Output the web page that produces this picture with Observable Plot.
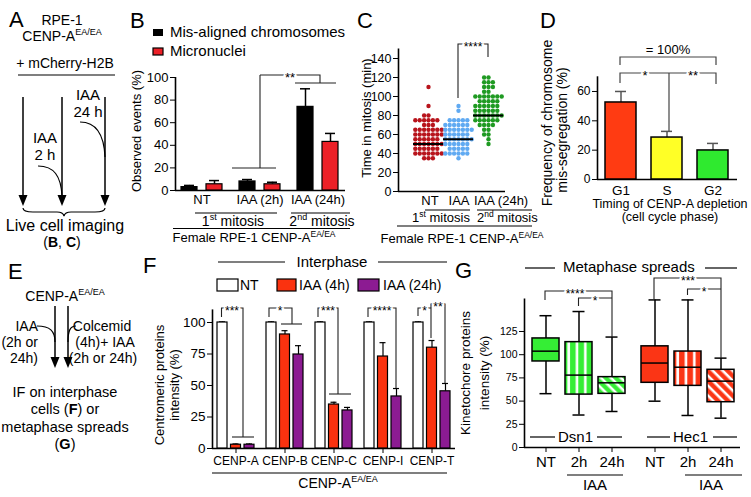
<!DOCTYPE html>
<html><head><meta charset="utf-8">
<script src="https://cdn.jsdelivr.net/npm/d3@7"></script>
<script src="https://cdn.jsdelivr.net/npm/@observablehq/plot@0.6"></script>
<style>
html,body{margin:0;padding:0;background:#fff;}
#wrap{position:relative;width:751px;height:497px;overflow:hidden;font-family:"Liberation Sans",Arial,Helvetica,sans-serif;}
#wrap svg{position:absolute;left:0;top:0;background:transparent !important;overflow:visible;}
</style></head><body><div id="wrap"></div>
<script>
const W=751,H=497;
const FONT='"Liberation Sans", Arial, Helvetica, sans-serif';

// ---- Panel B data ----
const bGroups=["NT","IAA (2h)","IAA (24h)"];
const bMisaligned=[3,8,74];
const bMisalignedSem=[1.5,1.7,16];
const bMicronuclei=[5.5,5.5,43];
const bMicronucleiSem=[3.3,1.8,7.5];

// ---- Panel C data ----
const cCats=["NT","IAA","IAA (24h)"];
const cNT=[110,90,80,80,75,75,75,75,75,75,70,70,70,65,65,65,65,65,65,65,60,60,60,60,60,60,60,55,55,55,55,55,55,50,50,50,50,50,50,50,45,45,45,45,45,45,40,40,40,40,40,40,40,35,35,35];
const cIAA=[90,85,75,75,75,75,75,70,70,70,70,70,70,65,65,65,65,65,65,65,60,60,60,60,60,60,55,55,55,55,55,55,55,50,50,50,50,50,50,45,45,45,45,45,40,40,40,40,40,40,35];
const cIAA24=[120,120,115,115,115,110,110,110,105,105,100,100,100,100,100,100,100,95,95,95,95,95,90,90,90,90,90,90,85,85,85,85,85,85,80,80,80,80,80,80,80,75,75,75,75,75,75,70,70,70,70,65,65,60,60,55,50];
const cMedians=[50,55,80];
const cTicks=[0,20,40,60,80,100,120,140];

// ---- Panel D data ----
const dPhases=["G1","S","G2"];
const dValues=[52.5,28.6,19.8];
const dSem=[7.5,4.2,4.8];
const dTicks=[0,20,40,60];

// ---- Panel F data ----
const fProteins=["CENP-A","CENP-B","CENP-C","CENP-I","CENP-T"];
const fNT=[100,100,100,100,100];
const fNTSem=[0.5,0.5,0.5,0.5,0.5];
const fIAA4=[3,90.5,34.9,73,80];
const fIAA4Sem=[0.6,3,1.8,11,5.7];
const fIAA24=[3,74.6,30.2,41.3,45.4];
const fIAA24Sem=[0.6,7,2.4,6.3,6.2];
const fTicks=[0,25,50,75,100];

// ---- Panel G data ----
const gGenes=["Dsn1","Dsn1","Dsn1","Hec1","Hec1","Hec1"];
const gConds=["NT","2h","24h","NT","2h","24h"];
const gQ1=[92.7,57,57.8,69.7,66.4,48.8];
const gMedian=[103.8,78,69.7,91,86.5,71.5];
const gQ3=[117.5,113.5,75.8,109,103.4,83.7];
const gMin=[58,35,38.8,49.9,34.5,31.6];
const gMax=[142,146.5,119,159,159,96.3];
const gTicks=[0,25,50,75,100,125];

// ---- colours ----
const BRED="#ec2027";
const cColors=["#b8141c","#60aaf2","#1f9a22"];
const dColors=["#ff3b12","#ffff26","#2fea2f"];
const FRED="#fa320f", FPUR="#8c1b92";
const GGREEN="#35ee35", GRED="#fb3515";

const wrap=document.getElementById("wrap");
wrap.insertAdjacentHTML("beforeend",`<svg width="0" height="0"><defs>
<pattern id="gV" patternUnits="userSpaceOnUse" width="8.3" height="10"><rect width="8.3" height="10" fill="${GGREEN}"/><rect x="3" width="2.6" height="10" fill="#fff"/></pattern>
<pattern id="gD" patternUnits="userSpaceOnUse" width="7" height="7" patternTransform="rotate(-45)"><rect width="7" height="7" fill="${GGREEN}"/><rect x="2.5" width="2.6" height="7" fill="#fff"/></pattern>
<pattern id="rV" patternUnits="userSpaceOnUse" width="8.3" height="10"><rect width="8.3" height="10" fill="${GRED}"/><rect x="3" width="2.6" height="10" fill="#fff"/></pattern>
<pattern id="rD" patternUnits="userSpaceOnUse" width="7" height="7" patternTransform="rotate(-45)"><rect width="7" height="7" fill="${GRED}"/><rect x="2.5" width="2.6" height="7" fill="#fff"/></pattern>
</defs></svg>`);
const gFills=[GGREEN,"url(#gV)","url(#gD)",GRED,"url(#rV)","url(#rD)"];

const st=fs=>({fontFamily:FONT,fontSize:fs+"px",background:"transparent",overflow:"visible"});
const M=(top,bottom,left,right)=>({marginTop:top,marginBottom:H-bottom,marginLeft:left,marginRight:W-right});
const add=el=>wrap.appendChild(el);
function axes(dom,ticks,top,bottom,left,right,fs){
  return Plot.plot({width:W,height:H,...M(top,bottom,left,right),style:st(fs),
    x:{domain:[0,1],axis:null},
    y:{domain:dom,ticks:ticks,tickSize:5,tickPadding:2,label:null},
    marks:[Plot.ruleX([0],{strokeWidth:1.6}),Plot.ruleY([dom[0]],{strokeWidth:1.6})]});
}

// ---- B ----
add(axes([0,100],[0,20,40,60,80,100],77,190,175,345,13));
const bData=bGroups.map((g,i)=>({g,mis:bMisaligned[i],misE:bMisaligned[i]+bMisalignedSem[i],mic:bMicronuclei[i],micE:bMicronuclei[i]+bMicronucleiSem[i]}));
add(Plot.plot({width:W,height:H,...M(77,190,175,345),style:st(13),
  x:{domain:bGroups,paddingInner:0.293,paddingOuter:0.112,tickSize:0,tickPadding:4,label:null},
  y:{domain:[0,100],axis:null},
  marks:[
    Plot.ruleX(bData,{x:"g",y1:"mis",y2:"misE",dx:-12.5,strokeWidth:1.5}),
    Plot.tickY(bData,{x:"g",y:"misE",insetLeft:3,insetRight:28,strokeWidth:1.5}),
    Plot.ruleX(bData,{x:"g",y1:"mic",y2:"micE",dx:12.5,strokeWidth:1.5}),
    Plot.tickY(bData,{x:"g",y:"micE",insetLeft:28,insetRight:3,strokeWidth:1.5}),
    Plot.barY(bData,{x:"g",y:"mis",insetRight:25,fill:"#000",stroke:"#000",strokeWidth:1.2}),
    Plot.barY(bData,{x:"g",y:"mic",insetLeft:25,fill:BRED,stroke:"#000",strokeWidth:1.2})
  ]}));

// ---- C ----
add(axes([0,150],cTicks,48.5,191,398,505,12.5));
const cData=[...cNT.map(v=>({cat:cCats[0],v})),...cIAA.map(v=>({cat:cCats[1],v})),...cIAA24.map(v=>({cat:cCats[2],v}))];
const cMed=cCats.map((cat,i)=>({cat,v:cMedians[i]}));
add(Plot.plot({width:W,height:H,...M(48.5,191,413,503),style:st(12),
  fx:{domain:cCats,padding:0,axis:null,label:null},
  y:{domain:[0,150],axis:null},
  color:{domain:cCats,range:cColors},
  marks:[
    Plot.dot(cData,Plot.dodgeX({anchor:"middle",padding:0},{fx:"cat",y:"v",r:2.2,fill:"cat"})),
    Plot.tickY(cMed,{fx:"cat",y:"v",strokeWidth:2})
  ]}));

// ---- D ----
add(axes([0,70],dTicks,76.3,179,597,737,12));
const dData=dPhases.map((p,i)=>({p,v:dValues[i],e:dValues[i]+dSem[i]}));
add(Plot.plot({width:W,height:H,...M(76.3,179,597,737),style:st(13.5),
  x:{domain:dPhases,paddingInner:0.319,paddingOuter:0.149,tickSize:0,tickPadding:6,label:null},
  y:{domain:[0,70],axis:null},
  color:{domain:dPhases,range:dColors},
  marks:[
    Plot.ruleX(dData,{x:"p",y1:"v",y2:"e",stroke:"#555",strokeWidth:1.5}),
    Plot.tickY(dData,{x:"p",y:"e",insetLeft:10,insetRight:10,stroke:"#555",strokeWidth:1.5}),
    Plot.barY(dData,{x:"p",y:"v",fill:"p",stroke:"#000",strokeWidth:1.5})
  ]}));

// ---- F ----
add(axes([0,110],fTicks,309.4,448,212,455,13.5));
const fData=fProteins.map((p,i)=>({p,nt:fNT[i],ntE:fNT[i]+fNTSem[i],a:fIAA4[i],aE:fIAA4[i]+fIAA4Sem[i],b:fIAA24[i],bE:fIAA24[i]+fIAA24Sem[i]}));
add(Plot.plot({width:W,height:H,...M(309.4,448,212,455),style:st(12),
  x:{domain:fProteins,paddingInner:0.245,paddingOuter:0.102,tickSize:5,tickPadding:3,label:null},
  y:{domain:[0,110],axis:null},
  marks:[
    Plot.ruleX(fData,{x:"p",y1:"nt",y2:"ntE",dx:-13.5,strokeWidth:1.2}),
    Plot.tickY(fData,{x:"p",y:"ntE",insetLeft:2,insetRight:29,strokeWidth:1.2}),
    Plot.ruleX(fData,{x:"p",y1:"a",y2:"aE",strokeWidth:1.2}),
    Plot.tickY(fData,{x:"p",y:"aE",insetLeft:15.5,insetRight:15.5,strokeWidth:1.2}),
    Plot.ruleX(fData,{x:"p",y1:"b",y2:"bE",dx:13.5,strokeWidth:1.2}),
    Plot.tickY(fData,{x:"p",y:"bE",insetLeft:29,insetRight:2,strokeWidth:1.2}),
    Plot.barY(fData,{x:"p",y:"nt",insetRight:27,fill:"#fff",stroke:"#000",strokeWidth:1.2}),
    Plot.barY(fData,{x:"p",y:"a",insetLeft:13.5,insetRight:13.5,fill:FRED,stroke:"#000",strokeWidth:1.2}),
    Plot.barY(fData,{x:"p",y:"b",insetLeft:27,fill:FPUR,stroke:"#000",strokeWidth:1.2})
  ]}));

// ---- G ----
add(axes([0,160],gTicks,298.5,447,524,740,10.5));
const gData=gGenes.map((g,i)=>({g,c:gConds[i],q1:gQ1[i],med:gMedian[i],q3:gQ3[i],lo:gMin[i],hi:gMax[i],fill:gFills[i]}));
add(Plot.plot({width:W,height:H,...M(298.5,447,524,742),style:st(15),
  fx:{domain:["Dsn1","Hec1"],padding:0,axis:null,label:null},
  x:{domain:["NT","2h","24h"],paddingInner:0.179,paddingOuter:0.2165,tickSize:5,tickPadding:4,label:null},
  y:{domain:[0,160],axis:null},
  color:{type:"identity"},
  marks:[
    Plot.ruleX(gData,{fx:"g",x:"c",y1:"lo",y2:"hi",strokeWidth:1.5}),
    Plot.tickY(gData,{fx:"g",x:"c",y:"lo",insetLeft:7.5,insetRight:7.5,strokeWidth:1.5}),
    Plot.tickY(gData,{fx:"g",x:"c",y:"hi",insetLeft:7.5,insetRight:7.5,strokeWidth:1.5}),
    Plot.barY(gData,{fx:"g",x:"c",y1:"q1",y2:"q3",fill:"fill",stroke:"#000",strokeWidth:1.5}),
    Plot.tickY(gData,{fx:"g",x:"c",y:"med",strokeWidth:1.5})
  ]}));

// ---- overlay: schematics, labels, legends, brackets ----
const sup=(s,fs=9,d=6)=>`<tspan font-size="${fs}" dy="-${d}">${s}</tspan>`;
const L=(x1,y1,x2,y2,w=1.2,c="#000")=>`<line x1="${x1}" y1="${y1}" x2="${x2}" y2="${y2}" stroke="${c}" stroke-width="${w}"/>`;
const P=(pts,w=1.1,c="#222")=>`<polyline points="${pts}" fill="none" stroke="${c}" stroke-width="${w}"/>`;
const T=(x,y,s,o={})=>{const fs=o.fs||14,a=o.a||"start";
  const halo=o.halo?` stroke="#fff" stroke-width="3" paint-order="stroke"`:"";
  const rot=o.rot?` transform="rotate(-90 ${x} ${y})"`:"";
  return `<text x="${x}" y="${y}" font-size="${fs}" text-anchor="${a}"${halo}${rot}>${s}</text>`;};
const arrow=(x,y1,y2)=>L(x,y1,x,y2-8,1.5)+`<polygon points="${x-4.5},${y2-11} ${x+4.5},${y2-11} ${x},${y2}" fill="#000"/>`;
const path=(d,w=1.2)=>`<path d="${d}" fill="none" stroke="#000" stroke-width="${w}"/>`;
const rect=(x,y,w,h,f)=>`<rect x="${x}" y="${y}" width="${w}" height="${h}" fill="${f}" stroke="#000" stroke-width="1.2"/>`;
const b=s=>`<tspan font-weight="bold">${s}</tspan>`;
let o="";
// A
o+=T(9,27,"A",{fs:22});
o+=T(62,25,"RPE-1",{a:"middle"});
o+=T(62,41,"CENP-A"+sup("EA/EA"),{a:"middle"});
o+=T(65,68,"+ mCherry-H2B",{a:"middle"});
o+=L(18,75,115,75);
o+=arrow(23,97,206)+arrow(62,97,206)+arrow(105,97,206);
o+=T(45,143,"IAA",{fs:15,a:"middle"})+T(45,160,"2 h",{fs:15,a:"middle"});
o+=path("M38,166 C54,166 61,176 62,196");
o+=T(88,100,"IAA",{fs:15,a:"middle"})+T(88,117,"24 h",{fs:15,a:"middle"});
o+=path("M80,122 C96,122 104,134 105,157");
o+=path("M23,208 Q23,212 33,212 L57,212 Q63,212 64,216 Q65,212 71,212 L95,212 Q105,212 105,208");
o+=T(65,231,"Live cell imaging",{fs:16,a:"middle"});
o+=T(62,247,`(${b("B")}, ${b("C")})`,{a:"middle"});
// E
o+=T(8,279,"E",{fs:22});
o+=T(65,301,"CENP-A"+sup("EA/EA"),{a:"middle"});
o+=arrow(55,306,368)+arrow(68,306,368);
o+=T(38,331,"IAA",{a:"end"})+T(38,347,"(2h or",{a:"end"})+T(38,363,"24h)",{a:"end"});
o+=path("M37,326 C50,326 55,331 55,342");
o+=path("M76,326 C70,326 68,331 68,342");
o+=T(102,331,"Colcemid",{a:"middle"})+T(105,347,"(4h)+ IAA",{a:"middle"})+T(103,363,"(2h or 24h)",{a:"middle"});
o+=T(65,397,"IF on interphase",{fs:14.5,a:"middle"});
o+=T(65,414,`cells (${b("F")}) or`,{fs:14.5,a:"middle"});
o+=T(65,432,"metaphase spreads",{fs:14.5,a:"middle"});
o+=T(65,449,`(${b("G")})`,{fs:14.5,a:"middle"});
// B
o+=T(130,28,"B",{fs:22});
o+=`<rect x="153" y="29" width="10" height="7" fill="#000"/>`+T(170,37,"Mis-aligned chromosomes",{fs:15});
o+=rect(153,48,10,7,BRED)+T(170,56,"Micronuclei",{fs:15});
o+=T(141,131,"Observed events (%)",{fs:13,a:"middle",rot:true});
o+=P("232,168 276,168")+L(260,168,260,75,1.1,"#222")+P("260,75 320,75 320,83")+P("295,83 336,83");
o+=T(290,82,"**",{fs:13,a:"middle",halo:true});
o+=L(195,213,277,213)+T(233,226,"1"+sup("st")+`<tspan dy="6"> mitosis</tspan>`,{a:"middle"});
o+=L(291,213,350,213)+T(322,226,"2"+sup("nd")+`<tspan dy="6"> mitosis</tspan>`,{a:"middle"});
o+=L(173,228.5,350,228.5);
o+=T(254,242,"Female RPE-1 CENP-A"+sup("EA/EA",8.5,5),{fs:13,a:"middle"});
// C
o+=T(357,28,"C",{fs:22});
o+=T(371,118,"Time in mitosis (min)",{fs:13,a:"middle",rot:true});
o+=P("458,98 458,44 488,44 488,57");
o+=T(473,51,"****",{fs:12,a:"middle",halo:true});
o+=T(430,205,"NT",{fs:13,a:"middle"})+T(459,205,"IAA",{fs:13,a:"middle"})+T(474,205,"IAA (24h)",{fs:13});
o+=L(425,210,470,210)+T(441,222,"1"+sup("st",8.5,5)+`<tspan dy="5"> mitosis</tspan>`,{fs:13,a:"middle"});
o+=L(477,210,532,210)+T(477,222,"2"+sup("nd",8.5,5)+`<tspan dy="5"> mitosis</tspan>`,{fs:13});
o+=L(397,226,532,226);
o+=T(462,243,"Female RPE-1 CENP-A"+sup("EA/EA",8.5,5),{fs:13,a:"middle"});
// D
o+=T(540,28,"D",{fs:22});
o+=T(552,123,"Frequency of chromosome",{fs:14,a:"middle",rot:true});
o+=T(567,130,"mis-segregation (%)",{fs:14,a:"middle",rot:true});
o+=T(668,54,"= 100%",{fs:13,a:"middle"});
o+=P("620,65 620,57 716,57 716,65",1.2,"#444");
o+=P("620,83 620,73 716,73 716,84",1.2,"#444")+L(669,73,669,131,1.2,"#444");
o+=T(645,80,"*",{fs:13,a:"middle",halo:true})+T(693,80,"**",{fs:13,a:"middle",halo:true});
o+=T(670,208,"Timing of CENP-A depletion",{fs:12.5,a:"middle"});
o+=T(670,221,"(cell cycle phase)",{fs:12.5,a:"middle"});
// F
o+=T(143,273,"F",{fs:22});
o+=L(218,262,285,262)+T(332,267,"Interphase",{fs:15,a:"middle"})+L(378,262,447,262);
o+=rect(217,279,21,12,"#fff")+T(240,290,"NT");
o+=rect(277,279,19,12,FRED)+T(299,290,"IAA (4h)");
o+=rect(358,279,21,12,FPUR)+T(383,290,"IAA (24h)");
o+=T(164,385,"Centromeric proteins",{fs:13,a:"middle",rot:true});
o+=T(179,385,"intensity (%)",{fs:13,a:"middle",rot:true});
o+=P("221.5,317 221.5,308 243,308 243,437")+P("232,437 254,437");
o+=P("269,317 269,308 292,308 292,324")+P("281,324 302,324");
o+=P("318,317 318,308 338,308 338,394")+P("329,394 351,394");
o+=P("368,317 368,308 396,308 396,388");
o+=P("418,316 418,308 431,308")+P("431,338 431,304 445,304 445,383");
o+=T(232,314.5,"***",{fs:12,a:"middle",halo:true})+T(280,314.5,"*",{fs:12,a:"middle",halo:true});
o+=T(328,314.5,"***",{fs:12,a:"middle",halo:true})+T(382,314.5,"****",{fs:12,a:"middle",halo:true});
o+=T(424.5,314.5,"*",{fs:12,a:"middle",halo:true})+T(438,310.5,"**",{fs:12,a:"middle",halo:true});
o+=L(212,473,447,473)+T(338,488,"CENP-A"+sup("EA/EA"),{fs:14,a:"middle"});
// G
o+=T(455,278,"G",{fs:22});
o+=L(525,268,555,268)+T(563,272,"Metaphase spreads",{fs:15})+L(705,268,737,268);
o+=T(470,373,"Kinetochore proteins",{fs:13.5,a:"middle",rot:true});
o+=T(489,373,"intensity (%)",{fs:13.5,a:"middle",rot:true});
o+=P("545,300 545,291 612,291 612,336")+T(575,297.5,"****",{fs:12,a:"middle",halo:true});
o+=P("578.5,306 578.5,298 612,298")+T(595,304.5,"*",{fs:12,a:"middle",halo:true});
o+=P("654,299 654,278 721,278 721,357")+T(688,284.5,"***",{fs:12,a:"middle",halo:true});
o+=P("687.5,295 687.5,289 721,289")+T(704,295.5,"*",{fs:12,a:"middle",halo:true});
o+=L(530,437,555,437)+T(558,442,"Dsn1",{fs:15})+L(597,437,622,437);
o+=L(647,437,670,437)+T(673,442,"Hec1",{fs:15})+L(713,437,737,437);
o+=L(567,475,623,475)+T(595,490,"IAA",{fs:15,a:"middle"});
o+=L(685,475,742,475)+T(711,490,"IAA",{fs:15,a:"middle"});
wrap.insertAdjacentHTML("beforeend",`<svg width="${W}" height="${H}" font-family='${FONT}'>${o}</svg>`);
</script></body></html>
